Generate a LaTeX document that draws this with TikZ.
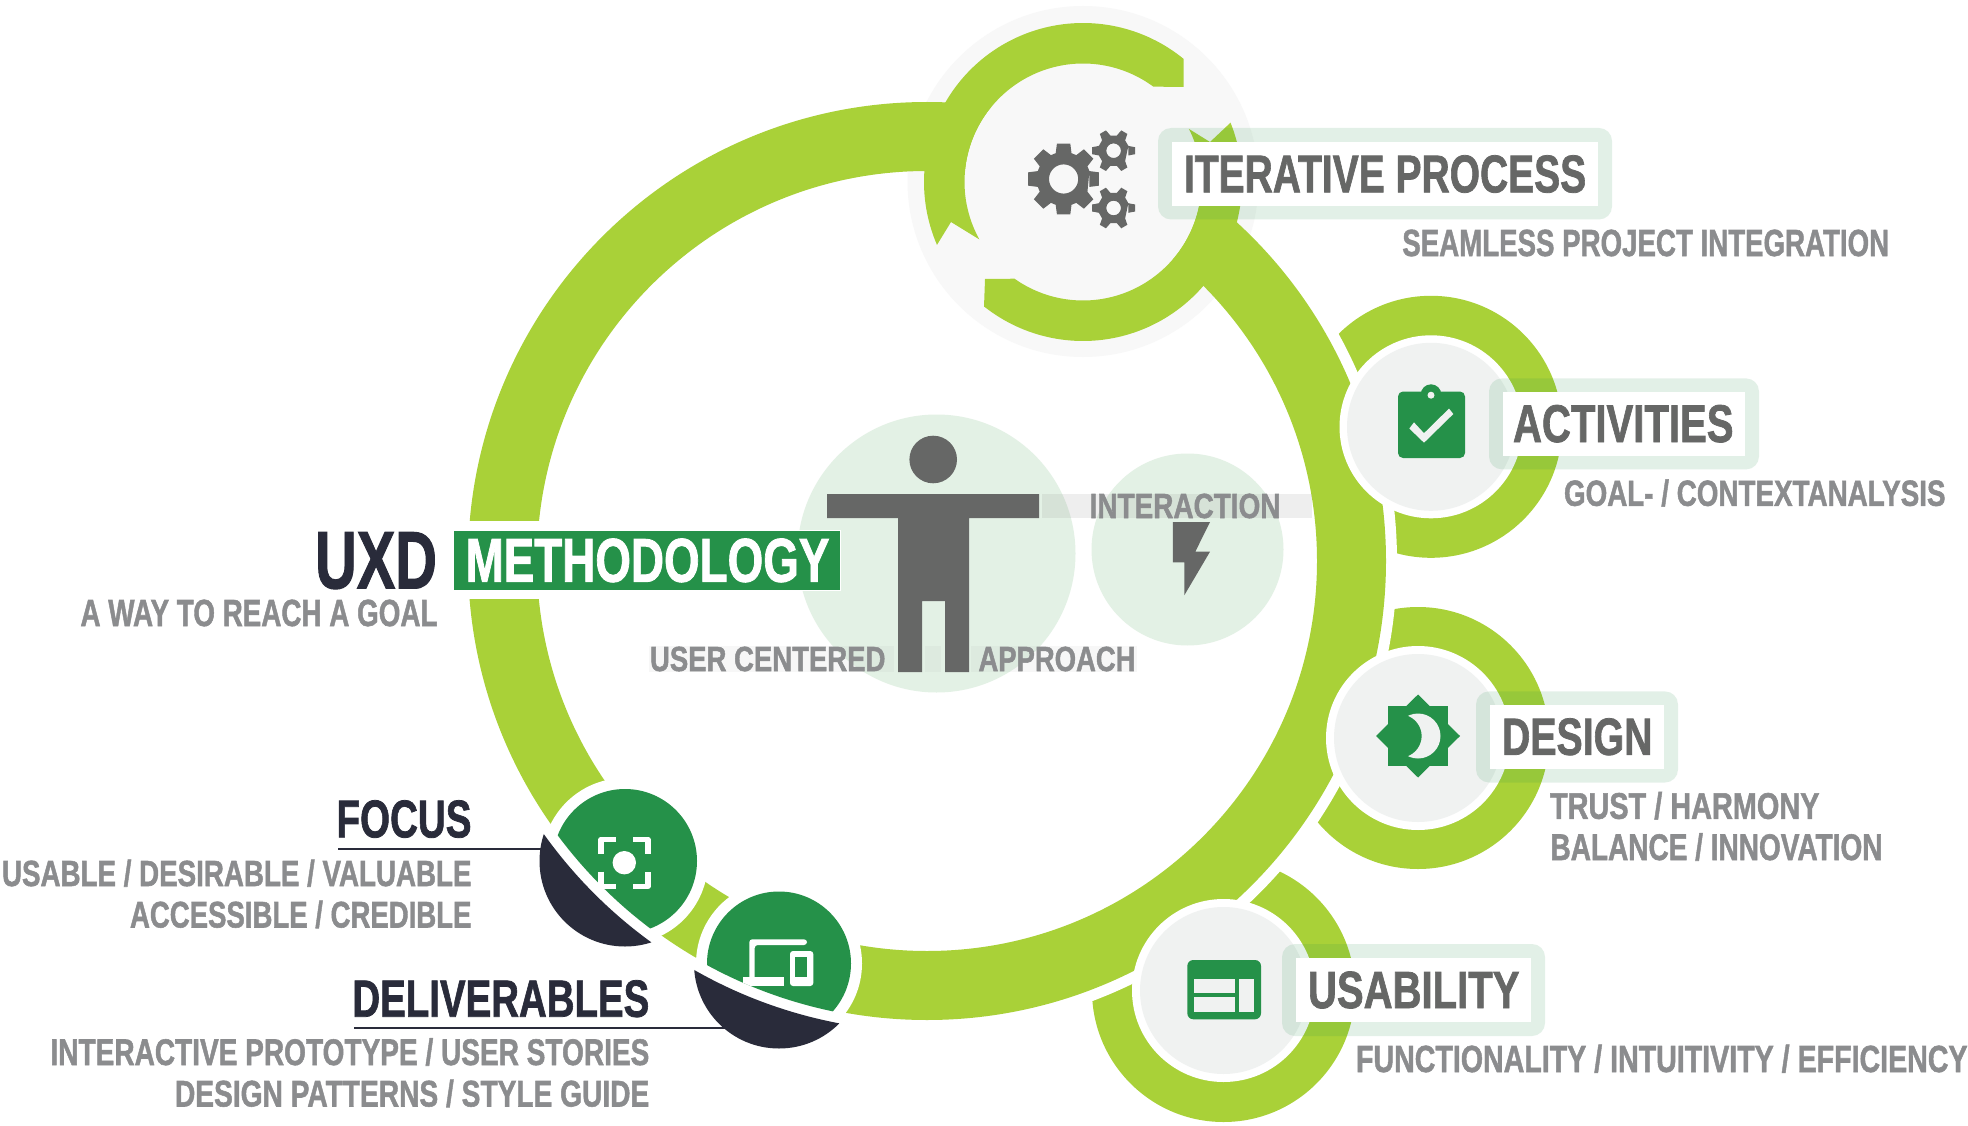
\documentclass[tikz,border=0pt]{standalone}
\usepackage{fontspec}
\usepackage{graphicx}
\setmainfont{Liberation Sans}
\newfontfamily\tbf{Liberation Sans}[BoldFeatures={FakeBold=1.5}]
\definecolor{lime}{HTML}{A9D138}
\definecolor{dgreen}{HTML}{259149}
\definecolor{navy}{HTML}{292B3A}
\definecolor{txgray}{HTML}{8B8C8E}
\definecolor{icgray}{HTML}{666766}
\definecolor{palegray}{HTML}{F0F2F1}
\definecolor{iterpale}{HTML}{F8F8F8}
\definecolor{palegreen}{HTML}{E3F1E5}
\newcommand\tx[3]{\setbox0=\hbox{\tbf\fontsize{10}{12}\selectfont\bfseries #3}%
  \pgfmathsetmacro\xf{(#1+2.5)/\the\wd0}\pgfmathsetmacro\yf{#2/6.88}%
  \scalebox{\xf}[\yf]{\box0}}
\newcommand\gearicon[9]{%
  \pgfmathsetmacro\stp{360/#6}%
  \fill[icgray,even odd rule] ({#1+#4*cos(-#8)},{#2+#4*sin(-#8)})
    \foreach \i in {1,...,#6}{
      -- ({#1+#4*cos(\i*\stp+#9-#8)},{#2+#4*sin(\i*\stp+#9-#8)})
      -- ({#1+#3*cos(\i*\stp+#9-#7)},{#2+#3*sin(\i*\stp+#9-#7)})
      -- ({#1+#3*cos(\i*\stp+#9+#7)},{#2+#3*sin(\i*\stp+#9+#7)})
      -- ({#1+#4*cos(\i*\stp+#9+#8)},{#2+#4*sin(\i*\stp+#9+#8)})
    } -- cycle
    (#1,#2) circle[radius=#5pt];}
\tikzset{
  wtxt/.style={inner sep=0pt,outer sep=0pt,anchor=base west,xshift=-1pt},
  etxt/.style={inner sep=0pt,outer sep=0pt,anchor=base east,xshift=1pt},
  title/.style={text=icgray},
  sub/.style={text=txgray},
  dark/.style={text=navy},
  lblout/.style={fill=dgreen,fill opacity=.13,rounded corners=13pt},
  lblin/.style={fill=white},
  satring/.style={fill=lime,even odd rule},
  leader/.style={draw=navy,line width=1.7pt}
}
\begin{document}
\begin{tikzpicture}[x=1pt,y=-1pt]
\useasboundingbox (0,0) rectangle (1968,1126);
\fill[white] (0,0) rectangle (1968,1126);
% satellite rings
\fill[satring] (1431,426.8) circle[radius=131pt] circle[radius=88pt];
\fill[satring] (1418,738) circle[radius=131pt] circle[radius=88pt];
\fill[satring] (1223.5,990.5) circle[radius=131.5pt] circle[radius=88pt];
% white halo of main ring
\fill[white] (927,561) circle[radius=470pt];
% iterative disc
\fill[iterpale] (1083,181.5) circle[radius=175.5pt];
% main ring
\fill[lime,even odd rule] (927,561) circle[radius=459pt] circle[radius=390pt];
\fill[white] (460,521) rectangle (545,599);
% iterative ring
\fill[iterpale] (1083,182) circle[radius=118.5pt];
\fill[lime] (1183.6,87) -- (1183.6,59)
  -- plot[domain=-50.7:-203.3,samples=90] ({1083+159*cos(\x)},{182+159*sin(\x)})
  -- (951,222)
  -- plot[domain=-209:-53.6,samples=90] ({1083+118.5*cos(\x)},{182+118.5*sin(\x)})
  -- cycle;
\fill[lime] (985,279) -- (984,307)
  -- plot[domain=128.4:-21.9,samples=90] ({1083+159*cos(\x)},{182+159*sin(\x)})
  -- (1210,142)
  -- plot[domain=-26.6:125.3,samples=90] ({1083+118.5*cos(\x)},{182+118.5*sin(\x)})
  -- cycle;
\gearicon{1063.6}{179}{36}{27}{14.6}{8}{10.7}{17}{0}
\gearicon{1113.6}{150.7}{21.7}{15.5}{7.3}{6}{9.3}{18}{0}
\gearicon{1113.6}{208}{21.7}{15.5}{7.3}{6}{9.3}{18}{0}
% satellite discs
\fill[white] (1431,426.8) circle[radius=91.5pt];
\fill[palegray] (1431,426.8) circle[radius=84pt];
\fill[white] (1418,738) circle[radius=92pt];
\fill[palegray] (1418,738) circle[radius=84pt];
\fill[white] (1223.5,990.5) circle[radius=91.5pt];
\fill[palegray] (1223.5,990.5) circle[radius=83.5pt];
% activities icon
\fill[dgreen] (1431,394.6) circle[radius=10.3pt];
\fill[dgreen,rounded corners=5pt] (1398,391.5) rectangle (1465,458);
\fill[palegray] (1431,395.2) circle[radius=3.5pt];
\fill[palegray] (1409.3,428.5) -- (1424,442.7) -- (1453.3,414) -- (1449,408.6) -- (1424,433.2) -- (1414,422.4) -- cycle;
% design icon
\fill[dgreen] (1388,706) rectangle (1448,765.5);
\fill[dgreen] (1376,736) -- (1418,694.5) -- (1460,736) -- (1418,777.5) -- cycle;
\begin{scope}[even odd rule]
  \clip (1300,650) rectangle (1540,830) (1400,736) circle[radius=21.7pt];
  \fill[palegray] (1418,736) circle[radius=22.5pt];
\end{scope}
% usability icon
\fill[dgreen,rounded corners=6pt] (1187.3,960) rectangle (1261,1019.3);
\fill[palegray] (1194.3,978.7) rectangle (1235.3,993.3);
\fill[palegray] (1194.3,997.3) rectangle (1235.3,1012);
\fill[palegray] (1239,978.7) rectangle (1254,1012);
% centre figure
\fill[palegreen] (936.5,553.5) circle[radius=139pt];
\fill[palegreen] (1187.5,549.5) circle[radius=96pt];
\fill[gray,fill opacity=.13] (1042,494.3) rectangle (1311.5,518.3);
\fill[gray,fill opacity=.06] (649,646) rectangle (894,671.5);
\fill[gray,fill opacity=.06] (925,646) rectangle (941,671.5);
\fill[gray,fill opacity=.06] (971,646) rectangle (1136.5,671.5);
\fill[icgray] (933.2,459.5) circle[radius=23.8pt];
\fill[icgray] (827,494) -- (1039,494) -- (1039,518) -- (969,518) -- (969,672) -- (945,672) -- (945,601) -- (922,601) -- (922,672) -- (898,672) -- (898,518) -- (827,518) -- cycle;
\fill[icgray] (1172.8,522) -- (1210,522) -- (1195.3,551.7) -- (1210,551.7) -- (1184.3,595.3) -- (1184.3,562.3) -- (1172.8,562.3) -- cycle;
\node[wtxt,sub] (interaction) at (1090.6,518) {\tx{188.4}{24}{INTERACTION}};
\node[wtxt,sub] (usercentered) at (651,671) {\tx{233}{24}{USER CENTERED}};
\node[wtxt,sub] (approach) at (979.5,671) {\tx{154.5}{24}{APPROACH}};
% labels
\fill[lblout] (1158,128) rectangle (1612,219.5);
\fill[lblin] (1172,142) rectangle (1598,206);
\node[wtxt,title] (iter) at (1185,192.3) {\tx{399.7}{36.5}{ITERATIVE PROCESS}};
\node[wtxt,sub] (iters) at (1403.3,256) {\tx{484.3}{26}{SEAMLESS PROJECT INTEGRATION}};
\fill[lblout] (1489,378.4) rectangle (1759,469.4);
\fill[lblin] (1503,392) rectangle (1745,456);
\node[wtxt,title] (act) at (1514,442) {\tx{218}{36.5}{ACTIVITIES}};
\node[wtxt,sub] (acts) at (1565,505.8) {\tx{379}{25}{GOAL- / CONTEXTANALYSIS}};
\fill[lblout] (1476,691.4) rectangle (1678,782.5);
\fill[lblin] (1490,705.2) rectangle (1664,768.7);
\node[wtxt,title] (des) at (1503,754.8) {\tx{148}{36}{DESIGN}};
\node[wtxt,sub] (desa) at (1551,818.8) {\tx{267}{25.5}{TRUST / HARMONY}};
\node[wtxt,sub] (desb) at (1551.5,860) {\tx{329.5}{25.5}{BALANCE / INNOVATION}};
\fill[lblout] (1282,944) rectangle (1545,1036);
\fill[lblin] (1296,958) rectangle (1531,1022);
\node[wtxt,title] (usa) at (1309,1008) {\tx{209}{36}{USABILITY}};
\node[wtxt,sub] (usas) at (1357,1072) {\tx{609}{26}{FUNCTIONALITY / INTUITIVITY / EFFICIENCY}};
% methodology
\fill[dgreen,draw=white,line width=.7pt] (453,530) rectangle (840.6,590);
\node[wtxt,text=white] (meth) at (466.6,581.7) {\tx{361.3}{42.5}{METHODOLOGY}};
\node[etxt,dark] (uxd) at (436,588.3) {\tx{119.4}{56}{UXD}};
\node[etxt,sub] (way) at (436.5,626) {\tx{354.5}{26}{A WAY TO REACH A GOAL}};
% focus
\node[etxt,dark] (focus) at (470.5,837.3) {\tx{132.5}{36.5}{FOCUS}};
\node[etxt,sub] (focusa) at (470.5,886) {\tx{467}{25}{USABLE / DESIRABLE / VALUABLE}};
\node[etxt,sub] (focusb) at (470.5,927.5) {\tx{339}{25.5}{ACCESSIBLE / CREDIBLE}};
\coordinate (fla) at (338,849);
\coordinate (flb) at (545,849);
\draw[leader] (fla) -- (flb);
\fill[white] (625,861) circle[radius=83pt];
\begin{scope}[even odd rule]
  \clip (-100,-100) rectangle (2100,1300) (927,561) circle[radius=470.5pt];
  \fill[navy] (625,861) circle[radius=85.5pt];
\end{scope}
\begin{scope}
  \clip (927,561) circle[radius=460pt];
  \fill[dgreen] (625,861) circle[radius=72pt];
\end{scope}
\fill[white] (624.3,862.7) circle[radius=11.7pt];
\begin{scope}[draw=white,line width=5.3pt,line join=round]
  \draw (601,853.7) -- (601,839.4) -- (615.7,839.4);
  \draw (633,839.4) -- (648,839.4) -- (648,853.7);
  \draw (601,871.7) -- (601,886.3) -- (615.7,886.3);
  \draw (633,886.3) -- (648,886.3) -- (648,871.7);
\end{scope}
% deliverables
\node[etxt,dark] (deliv) at (648.3,1016.7) {\tx{294.4}{36}{DELIVERABLES}};
\node[etxt,sub] (delia) at (648.3,1065) {\tx{596.3}{25.5}{INTERACTIVE PROTOTYPE / USER STORIES}};
\node[etxt,sub] (delib) at (648.3,1106.5) {\tx{471.8}{25.5}{DESIGN PATTERNS / STYLE GUIDE}};
\coordinate (dla) at (354,1027.7);
\coordinate (dlb) at (730,1027.7);
\draw[leader] (dla) -- (dlb);
\fill[white] (779,963.5) circle[radius=83pt];
\begin{scope}[even odd rule]
  \clip (-100,-100) rectangle (2100,1300) (927,561) circle[radius=470.5pt];
  \fill[navy] (779,963.5) circle[radius=85pt];
\end{scope}
\begin{scope}
  \clip (927,561) circle[radius=460pt];
  \fill[dgreen] (779,963.5) circle[radius=72pt];
  \fill[white] (743.3,977.3) rectangle (784,986);
  \fill[white,rounded corners=3pt] (749.3,982) -- (749.3,939.3) -- (807,939.3) -- (807,945) -- (754.7,945) -- (754.7,982) -- cycle;
  \fill[white,rounded corners=3pt] (790,951) rectangle (813.3,986);
  \fill[dgreen] (795.3,956.7) rectangle (807.3,977.3);
\end{scope}
\end{tikzpicture}
\end{document}
